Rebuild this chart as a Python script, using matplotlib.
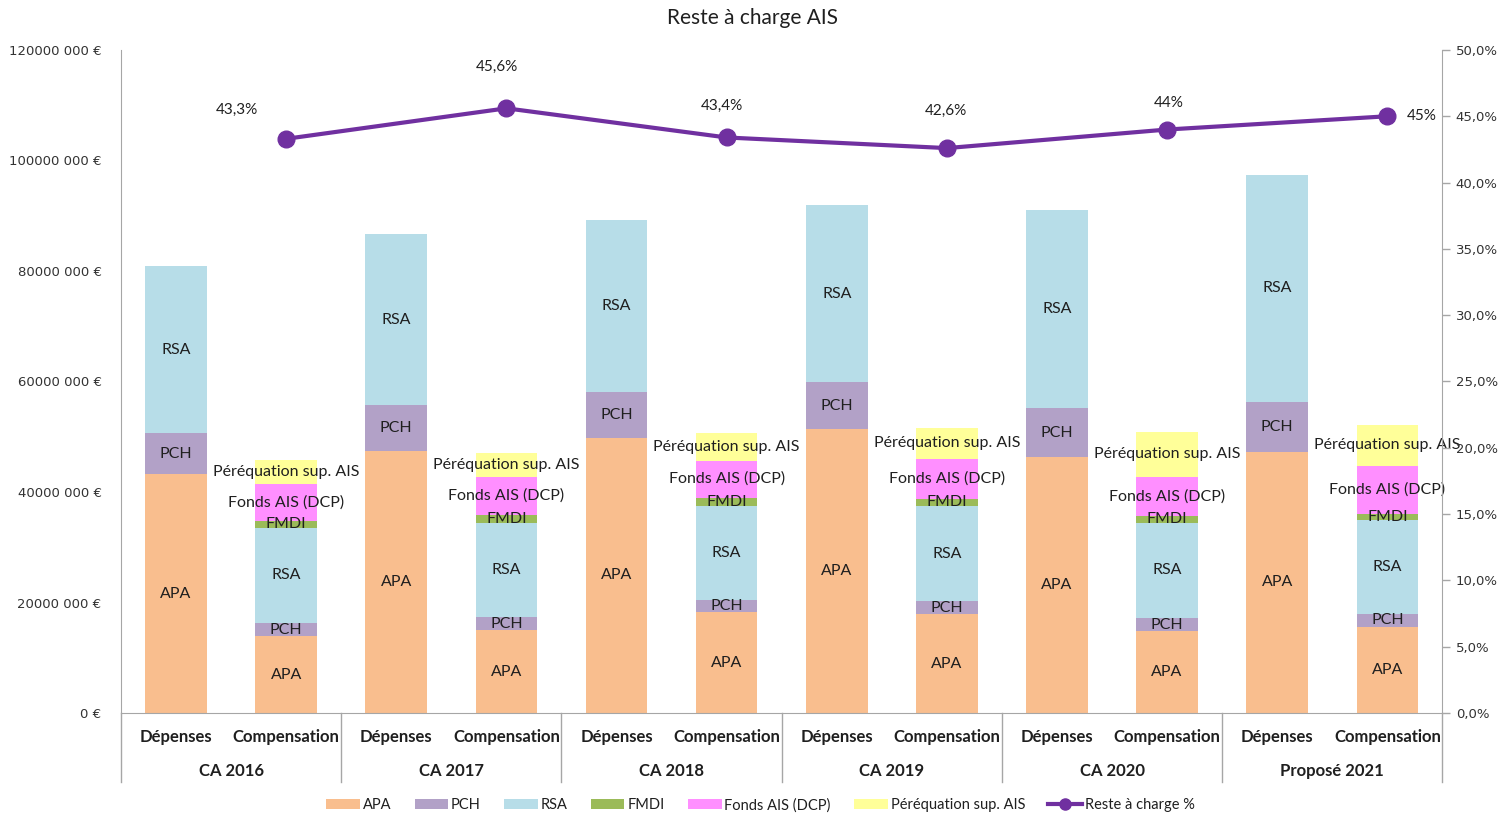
import numpy as np
import matplotlib
matplotlib.use("Agg")
import matplotlib.pyplot as plt
import matplotlib.ticker as ticker
from matplotlib.patches import Patch
from matplotlib.lines import Line2D

plt.rcParams['font.family'] = ['Lato', 'DejaVu Sans']

# --- data (millions of euros) ---
groups = ['CA 2016', 'CA 2017', 'CA 2018', 'CA 2019', 'CA 2020', 'Proposé 2021']
sub_labels = ['Dépenses', 'Compensation']

dep_apa = [43.2, 47.4, 49.8, 51.4, 46.3, 47.3]
dep_pch = [7.4, 8.3, 8.3, 8.5, 8.9, 9.0]
dep_rsa = [30.3, 31.0, 31.1, 32.0, 35.8, 41.1]

comp_apa = [13.9, 15.0, 18.2, 17.9, 14.8, 15.6]
comp_pch = [2.4, 2.3, 2.3, 2.3, 2.4, 2.3]
comp_rsa = [17.2, 17.0, 17.0, 17.3, 17.2, 17.0]
comp_fmdi = [1.3, 1.6, 1.5, 1.3, 1.3, 1.2]
comp_fonds = [6.6, 6.8, 6.7, 7.2, 7.0, 8.6]
comp_pereq = [4.4, 4.3, 4.9, 5.6, 8.2, 7.5]

reste_pct = [43.3, 45.6, 43.4, 42.6, 44.0, 45.0]
reste_lbl = ['43,3%', '45,6%', '43,4%', '42,6%', '44%', '45%']

colors = {
    'APA': '#F9BE8E',
    'PCH': '#B2A1C7',
    'RSA': '#B7DDE8',
    'FMDI': '#9BBB59',
    'Fonds AIS (DCP)': '#FF8FFF',
    'Péréquation sup. AIS': '#FFFF99',
}
line_color = '#7030A0'
grey = '#A6A6A6'
txt = '#1F1F1F'

M = 1e6
n = len(groups)
x_dep = np.arange(n) * 2
x_comp = x_dep + 1
bw = 0.56

fig = plt.figure(figsize=(15.12, 8.19), dpi=100)
ax = fig.add_axes([0.080, 0.1294, 0.874, 0.8096])


def stack(xs, parts):
    bottom = np.zeros(len(xs))
    for name, vals in parts:
        v = np.array(vals) * M
        ax.bar(xs, v, bw, bottom=bottom, color=colors[name], linewidth=0, zorder=2)
        for xi, b, h in zip(xs, bottom, v):
            ax.text(xi, b + h / 2, name, ha='center', va='center', fontsize=11.5,
                    color=txt, zorder=5)
        bottom = bottom + v


stack(x_dep, [('APA', dep_apa), ('PCH', dep_pch), ('RSA', dep_rsa)])
stack(x_comp, [('APA', comp_apa), ('PCH', comp_pch), ('RSA', comp_rsa),
               ('FMDI', comp_fmdi), ('Fonds AIS (DCP)', comp_fonds),
               ('Péréquation sup. AIS', comp_pereq)])

ax.set_xlim(-0.5, 2 * n - 0.5)
ax.set_ylim(0, 120 * M)
ax.set_yticks(np.arange(0, 121, 20) * M)


def euro_fmt(v, pos):
    v = int(round(v))
    if v == 0:
        return '0 €'
    return f'{v // 1000} {v % 1000:03d} €'


ax.yaxis.set_major_formatter(ticker.FuncFormatter(euro_fmt))
ax.tick_params(axis='y', length=0, pad=14, labelsize=9.5, labelcolor='#333333')
for lab in ax.get_yticklabels():
    lab.set_fontfamily('DejaVu Sans')
ax.set_xticks([])
ax.spines['top'].set_visible(False)
ax.spines['right'].set_visible(False)
ax.spines['left'].set_color(grey)
ax.spines['bottom'].set_color(grey)

# two level category axis
trans = ax.get_xaxis_transform()
for b in np.arange(-0.5, 2 * n, 2):
    ax.plot([b, b], [0, -0.104], transform=trans, color=grey, lw=1, clip_on=False)
for i, g in enumerate(groups):
    ax.text(x_dep[i], -0.036, sub_labels[0], transform=trans, ha='center', va='center',
            fontsize=12, fontweight='bold', color=txt)
    ax.text(x_comp[i], -0.036, sub_labels[1], transform=trans, ha='center', va='center',
            fontsize=12, fontweight='bold', color=txt)
    ax.text(x_dep[i] + 0.5, -0.0875, g, transform=trans, ha='center', va='center',
            fontsize=12, fontweight='bold', color=txt)

# secondary axis : reste à charge
ax2 = ax.twinx()
ax2.set_ylim(0, 0.5)
ax2.set_yticks(np.arange(0, 0.51, 0.05))
ax2.yaxis.set_major_formatter(ticker.FuncFormatter(lambda v, p: f'{v * 100:.1f}%'.replace('.', ',')))
ax2.tick_params(axis='y', length=6, width=1, color=grey, labelsize=9.5, labelcolor='#333333')
for lab in ax2.get_yticklabels():
    lab.set_fontfamily('DejaVu Sans')
for s in ['top', 'left', 'bottom']:
    ax2.spines[s].set_visible(False)
ax2.spines['right'].set_color(grey)

pct = np.array(reste_pct) / 100
ax2.plot(x_comp, pct, color=line_color, lw=3, marker='o', ms=12, zorder=6)
offsets = [(-49, 29), (-9, 41), (-5, 32), (-1, 37), (2, 27), (34, 0)]
for xi, yi, lb, off in zip(x_comp, pct, reste_lbl, offsets):
    ax2.annotate(lb, (xi, yi), xytext=off, textcoords='offset pixels', ha='center',
                 va='center', fontsize=11, color=txt)

fig.text(0.498, 0.978, 'Reste à charge AIS', ha='center', va='center', fontsize=15, color=txt)

handles = [Patch(facecolor=colors[k], edgecolor='none', label=k) for k in colors]
handles.append(Line2D([0], [0], color=line_color, lw=3, marker='o', ms=8, label='Reste à charge %'))
fig.legend(handles=handles, loc='center', bbox_to_anchor=(0.503, 0.017), ncol=7, frameon=False,
           fontsize=10.5, handlelength=2.3, handleheight=0.6, handletextpad=0.2,
           columnspacing=1.6, labelcolor=txt)

fig.savefig('out.png', dpi=100)
